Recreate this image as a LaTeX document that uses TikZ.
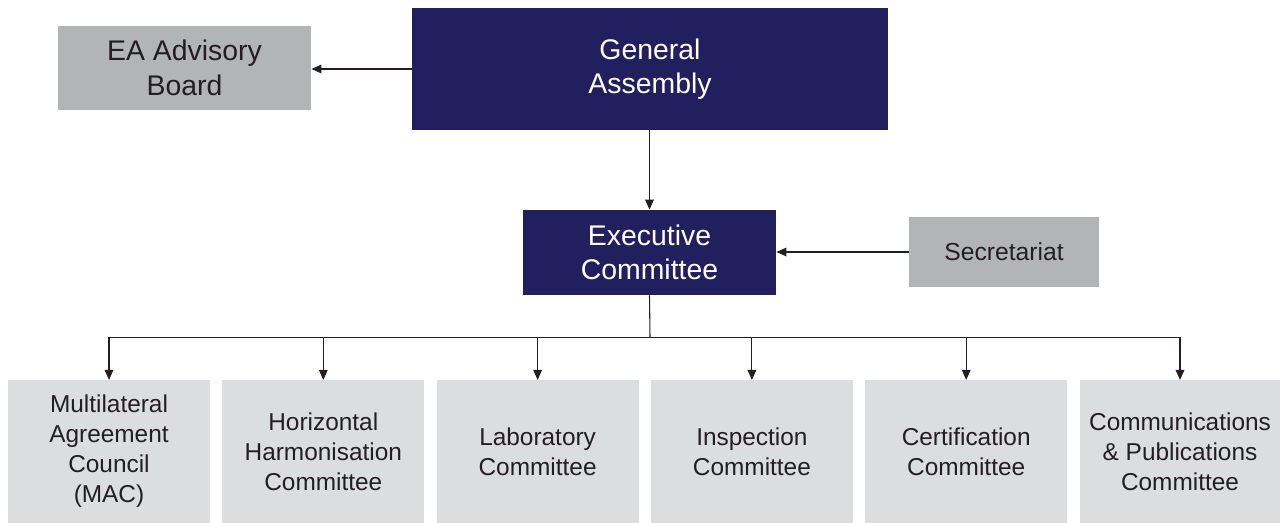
\documentclass[tikz,border=0pt]{standalone}
\usepackage{fontspec}
\setmainfont{Liberation Sans}
\usetikzlibrary{arrows.meta,positioning}
\definecolor{eanavy}{HTML}{221F5F}
\definecolor{eagrey}{HTML}{B3B4B6}
\definecolor{ealight}{HTML}{DCDDDF}
\definecolor{eatext}{HTML}{231F20}

\tikzset{
  navybox/.style={fill=eanavy,text=white,align=center,inner sep=0pt,font=\fontsize{21.3}{26}\selectfont},
  greybox/.style={fill=eagrey,text=eatext,align=center,inner sep=0pt},
  combox/.style={fill=ealight,text=eatext,align=center,inner sep=0pt,minimum width=151.5pt,minimum height=107pt,font=\fontsize{18.3}{22.5}\selectfont},
  link/.style={draw=eatext,line width=0.8pt},
  tip/.style={link,-{Triangle[length=7.5pt,width=6.5pt]}}
}

\begin{document}
\begin{tikzpicture}[x=0.75pt,y=-0.75pt]
\useasboundingbox (0,0) rectangle (1280,523);
\node[navybox,minimum width=357pt,minimum height=91.5pt] (ga) at (650,69) {General\\Assembly};
\node[greybox,minimum width=190pt,minimum height=63pt,font=\fontsize{21.3}{26}\selectfont] (board) at (184.5,68) {EA Advisory\\Board};
\node[navybox,minimum width=190pt,minimum height=64pt] (exec) at (649.5,252.5) {Executive\\Committee};
\node[greybox,minimum width=142.5pt,minimum height=52.5pt,font=\fontsize{18.5}{22}\selectfont] (sec) at (1004,252) {Secretariat};
\node[combox] (mac) at (109,451.5) {Multilateral\\Agreement\\Council\\(MAC)};
\node[combox] (hhc) at (323.3,451.5) {Horizontal\\Harmonisation\\Committee};
\node[combox] (lab) at (537.6,451.5) {Laboratory\\Committee};
\node[combox] (insp) at (751.9,451.5) {Inspection\\Committee};
\node[combox] (cert) at (966.2,451.5) {Certification\\Committee};
\node[combox,minimum width=150.5pt] (comm) at (1180,451.5) {Communications\\\& Publications\\Committee};
\coordinate (bus) at (650,337.5);

\draw[tip] (ga.west) -- (ga.west -| board.east);
\draw[tip] (ga.south -| exec.north) -- (exec.north);
\draw[tip] (sec.west) -- (sec.west -| exec.east);
\draw[link] (exec.south) -- (bus);
\draw[link] (bus -| mac.north) -- (bus -| comm.north);
\foreach \c in {mac,hhc,lab,insp,cert,comm}
  \draw[tip] (bus -| \c.north) -- (\c.north);
\end{tikzpicture}
\end{document}
